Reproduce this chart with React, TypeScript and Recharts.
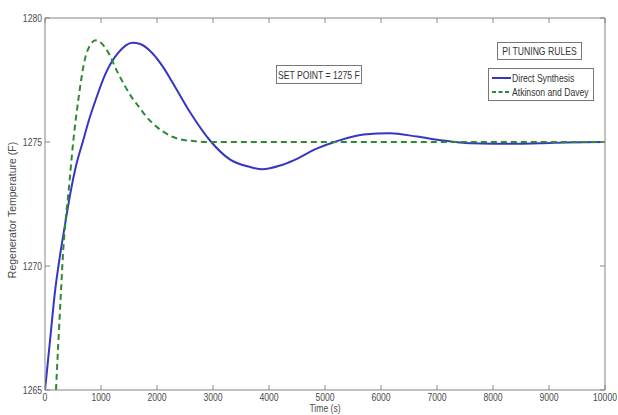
import React from "react";
import { LineChart, Line, XAxis, YAxis, Legend } from "recharts";

const timeTicks = [0, 1000, 2000, 3000, 4000, 5000, 6000, 7000, 8000, 9000, 10000];
const tempTicks = [1265, 1270, 1275, 1280];

// Direct Synthesis (solid blue)
const dsTime = [
  0, 90, 180, 240, 360, 450, 550, 680, 780, 890, 1070, 1310, 1560, 1700, 1900,
  2110, 2290, 2590, 2950, 3300, 3650, 3880, 4200, 4430, 4850, 5210, 5690, 6160,
  6640, 7110, 7590, 8000, 8420, 8900, 9320, 10000,
];
const dsTemp = [
  1265, 1267.0, 1269.0, 1270.0, 1271.7, 1272.9, 1274.0, 1275.05, 1275.85, 1276.6,
  1277.7, 1278.6, 1279.0, 1278.95, 1278.62, 1278.02, 1277.35, 1276.2, 1275.05,
  1274.3, 1274.0, 1273.9, 1274.05, 1274.25, 1274.73, 1275.03, 1275.3, 1275.35,
  1275.22, 1275.06, 1274.95, 1274.93, 1274.93, 1274.95, 1274.98, 1275.0,
];

// Atkinson and Davey (dashed green)
const adTime = [
  196, 240, 286, 330, 370, 416, 506, 595, 714, 800, 905, 1000, 1100, 1310, 1550,
  1700, 1800, 2000, 2110, 2290, 2590, 3000, 4000, 6000, 8000, 10000,
];
const adTemp = [
  1265, 1267.0, 1269.0, 1270.8, 1271.9, 1272.9, 1275.05, 1276.7, 1278.35, 1278.88,
  1279.1, 1279.0, 1278.72, 1277.75, 1276.8, 1276.35, 1276.05, 1275.6, 1275.42,
  1275.2, 1275.05, 1275.0, 1275.0, 1275.0, 1275.0, 1275.0,
];

const series = [
  { name: "Direct Synthesis", time: dsTime, temp: dsTemp, color: "#3535c6", dash: undefined },
  { name: "Atkinson and Davey", time: adTime, temp: adTemp, color: "#2f8a2f", dash: "6 4" },
];

const FONT = "'Liberation Sans', Arial, sans-serif";
const AXIS = "#858585";
const TEXT = "#4a4a4a";
const TICK_LEN = 5;
const SQUEEZE = 0.82; // the reference text is horizontally condensed

const toPoints = (ts: number[], vs: number[]) => ts.map((t, i) => ({ t, v: vs[i] }));

function NarrowText({ x, y, anchor, children, dy }: any) {
  return (
    <g transform={`translate(${x} ${y}) scale(${SQUEEZE} 1)`}>
      <text x={0} y={0} dy={dy} textAnchor={anchor} fontSize={10.5} fill={TEXT} fontFamily={FONT}>
        {children}
      </text>
    </g>
  );
}

function BottomTick({ x, y, payload }: any) {
  return (
    <g>
      <line x1={x} y1={y} x2={x} y2={y - TICK_LEN} stroke={AXIS} />
      <NarrowText x={x} y={y + 4} dy="0.71em" anchor="middle">
        {payload.value}
      </NarrowText>
    </g>
  );
}

function TopTick({ x, y }: any) {
  return <line x1={x} y1={y} x2={x} y2={y + TICK_LEN} stroke={AXIS} />;
}

function LeftTick({ x, y, payload }: any) {
  return (
    <g>
      <line x1={x} y1={y} x2={x + TICK_LEN} y2={y} stroke={AXIS} />
      <NarrowText x={x - 3} y={y} dy="0.36em" anchor="end">
        {payload.value}
      </NarrowText>
    </g>
  );
}

function RightTick({ x, y }: any) {
  return <line x1={x} y1={y} x2={x - TICK_LEN} y2={y} stroke={AXIS} />;
}

function YTitle({ viewBox }: any) {
  const cx = 12;
  const cy = viewBox.y + viewBox.height / 2 + 6;
  return (
    <text
      x={cx}
      y={cy}
      transform={`rotate(-90 ${cx} ${cy})`}
      textAnchor="middle"
      dy="0.36em"
      fontSize={10.5}
      fill={TEXT}
      fontFamily={FONT}
    >
      Regenerator Temperature (F)
    </text>
  );
}

function XTitle({ viewBox }: any) {
  const cx = viewBox.x + viewBox.width / 2;
  return (
    <NarrowText x={cx} y={412} anchor="middle">
      Time (s)
    </NarrowText>
  );
}

const narrowSpan: React.CSSProperties = {
  display: "inline-block",
  whiteSpace: "nowrap",
  transform: `scaleX(${SQUEEZE})`,
  transformOrigin: "left center",
};

function LegendBox() {
  return (
    <div
      style={{
        border: "1px solid #777",
        background: "#fff",
        padding: "2px 3px",
        fontFamily: FONT,
        fontSize: 10.5,
        color: "#333",
        lineHeight: "14px",
        boxSizing: "border-box",
        width: 106,
        height: 33,
      }}
    >
      {series.map((s) => (
        <div key={s.name} style={{ display: "flex", alignItems: "center", whiteSpace: "nowrap" }}>
          <svg width={19} height={10} style={{ marginRight: 1, flex: "none" }}>
            <line x1={0} y1={5} x2={19} y2={5} stroke={s.color} strokeWidth={2} strokeDasharray={s.dash ? "4 2.5" : undefined} />
          </svg>
          <span style={narrowSpan}>{s.name}</span>
        </div>
      ))}
    </div>
  );
}

const boxStyle: React.CSSProperties = {
  position: "absolute",
  border: "1px solid #777",
  background: "#fff",
  fontFamily: FONT,
  fontSize: 10.5,
  color: "#333",
  display: "flex",
  alignItems: "center",
  justifyContent: "center",
  boxSizing: "border-box",
  whiteSpace: "nowrap",
};

const centeredNarrow: React.CSSProperties = { ...narrowSpan, transformOrigin: "center center" };

export default function App() {
  return (
    <div style={{ position: "absolute", left: 0, top: 0, width: 618, height: 415, background: "#fff", overflow: "hidden" }}>
      <LineChart width={618} height={415} margin={{ top: 17, right: 12, bottom: 0, left: 0 }}>
        <XAxis
          xAxisId="bottom"
          dataKey="t"
          type="number"
          domain={[0, 10000]}
          ticks={timeTicks}
          interval={0}
          allowDataOverflow
          height={25}
          tickSize={0}
          tickMargin={0}
          tickLine={false}
          axisLine={{ stroke: AXIS }}
          tick={<BottomTick />}
          label={<XTitle />}
        />
        <XAxis
          xAxisId="top"
          orientation="top"
          dataKey="t"
          type="number"
          domain={[0, 10000]}
          ticks={timeTicks}
          interval={0}
          allowDataOverflow
          height={1}
          tickSize={0}
          tickMargin={0}
          tickLine={false}
          axisLine={{ stroke: AXIS }}
          tick={<TopTick />}
        />
        <YAxis
          yAxisId="left"
          type="number"
          domain={[1265, 1280]}
          ticks={tempTicks}
          interval={0}
          allowDataOverflow
          width={45}
          tickSize={0}
          tickMargin={0}
          tickLine={false}
          axisLine={{ stroke: AXIS }}
          tick={<LeftTick />}
          label={<YTitle />}
        />
        <YAxis
          yAxisId="right"
          orientation="right"
          type="number"
          domain={[1265, 1280]}
          ticks={tempTicks}
          interval={0}
          allowDataOverflow
          width={1}
          tickSize={0}
          tickMargin={0}
          tickLine={false}
          axisLine={{ stroke: AXIS }}
          tick={<RightTick />}
        />
        {series.map((s) => (
          <Line
            key={s.name}
            xAxisId="bottom"
            yAxisId="left"
            data={toPoints(s.time, s.temp)}
            dataKey="v"
            name={s.name}
            type="monotone"
            stroke={s.color}
            strokeWidth={2}
            strokeDasharray={s.dash}
            dot={false}
            activeDot={false}
            isAnimationActive={false}
          />
        ))}
        <Legend
          layout="vertical"
          align="center"
          verticalAlign="middle"
          content={<LegendBox />}
          wrapperStyle={{ left: 488, top: 68, width: 106, height: 33 }}
        />
      </LineChart>
      <div style={{ ...boxStyle, left: 276, top: 65, width: 86, height: 19 }}>
        <span style={centeredNarrow}>SET POINT = 1275 F</span>
      </div>
      <div style={{ ...boxStyle, left: 497, top: 42, width: 85, height: 18 }}>
        <span style={centeredNarrow}>PI TUNING RULES</span>
      </div>
    </div>
  );
}
